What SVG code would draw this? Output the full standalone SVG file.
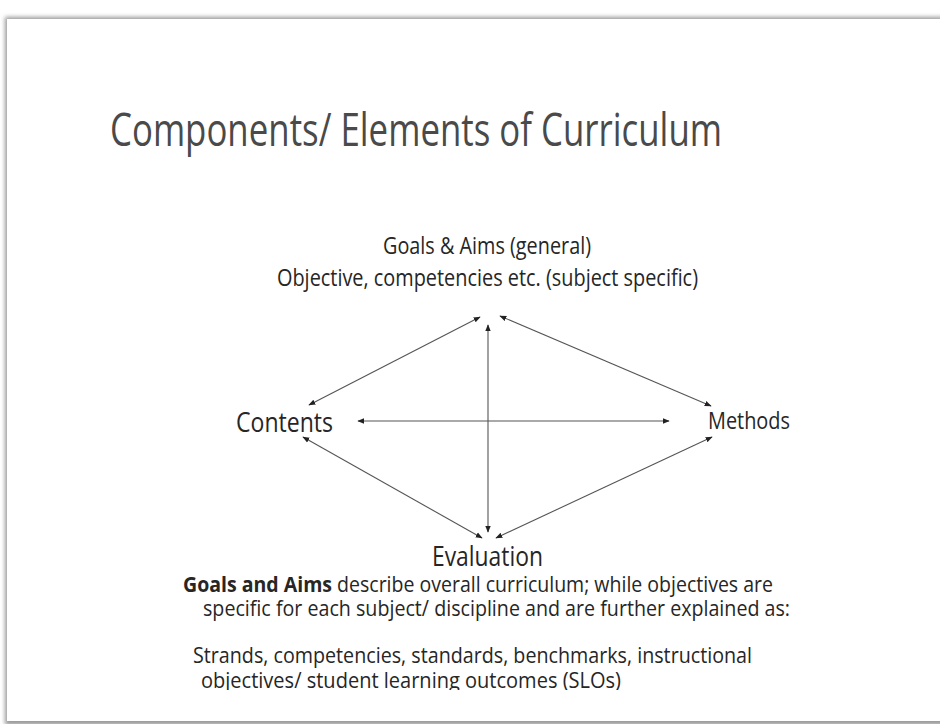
<svg xmlns="http://www.w3.org/2000/svg" width="940" height="724" viewBox="0 0 940 724">
<defs>
<style>
text{font-family:"Open Sans","Liberation Sans",sans-serif;fill:#262626}
.t{font-size:46px;fill:#4a4a4a}
.s{font-size:21px}
.g{font-size:23px}
.n{font-size:27px}
.c{stroke:#555;stroke-width:1.1;fill:none;marker-start:url(#a);marker-end:url(#a)}
</style>
<marker id="a" viewBox="0 0 10 10" refX="9" refY="5" markerWidth="7" markerHeight="7" orient="auto-start-reverse" markerUnits="userSpaceOnUse"><path d="M0,1 L10,5 L0,9 z" fill="#222"/></marker>
<filter id="sh" x="-5%" y="-5%" width="110%" height="110%"><feGaussianBlur stdDeviation="2"/></filter>
<clipPath id="cl"><rect x="0" y="0" width="940" height="690"/></clipPath>
</defs>
<rect width="940" height="724" fill="#fff"/>
<rect x="5" y="17" width="950" height="708" fill="#999" filter="url(#sh)"/>
<rect x="7" y="19" width="950" height="702" fill="#fff"/>
<text class="t" x="110" y="146" textLength="612" lengthAdjust="spacingAndGlyphs">Components/ Elements of Curriculum</text>
<g id="goals">
<text class="g" x="383" y="254" textLength="208" lengthAdjust="spacingAndGlyphs">Goals &amp; Aims (general)</text>
<text class="g" x="277" y="286" textLength="421" lengthAdjust="spacingAndGlyphs">Objective, competencies etc. (subject specific)</text>
</g>
<g id="contents"><text class="n" x="236" y="432" textLength="97" lengthAdjust="spacingAndGlyphs">Contents</text></g>
<g id="methods"><text class="g" x="708" y="429" textLength="82" lengthAdjust="spacingAndGlyphs">Methods</text></g>
<g id="evaluation"><text class="n" x="432" y="566" textLength="111" lengthAdjust="spacingAndGlyphs">Evaluation</text></g>
<g id="connectors">
<line class="c" x1="480" y1="317" x2="309" y2="405"/>
<line class="c" x1="500" y1="316" x2="711" y2="406"/>
<line class="c" x1="488" y1="325" x2="488" y2="532"/>
<line class="c" x1="358" y1="421" x2="669" y2="421"/>
<line class="c" x1="303" y1="437" x2="482" y2="538"/>
<line class="c" x1="496" y1="538" x2="712" y2="437"/>
</g>
<g id="notes" clip-path="url(#cl)">
<text class="s" x="183" y="592" textLength="590" lengthAdjust="spacingAndGlyphs"><tspan font-weight="bold">Goals and Aims</tspan> describe overall curriculum; while objectives are</text>
<text class="s" x="203" y="616" textLength="587" lengthAdjust="spacingAndGlyphs">specific for each subject/ discipline and are further explained as:</text>
<text class="s" x="193" y="663" textLength="559" lengthAdjust="spacingAndGlyphs">Strands, competencies, standards, benchmarks, instructional</text>
<text class="s" x="201" y="688" textLength="420" lengthAdjust="spacingAndGlyphs">objectives/ student learning outcomes (SLOs)</text>
</g>
</svg>
